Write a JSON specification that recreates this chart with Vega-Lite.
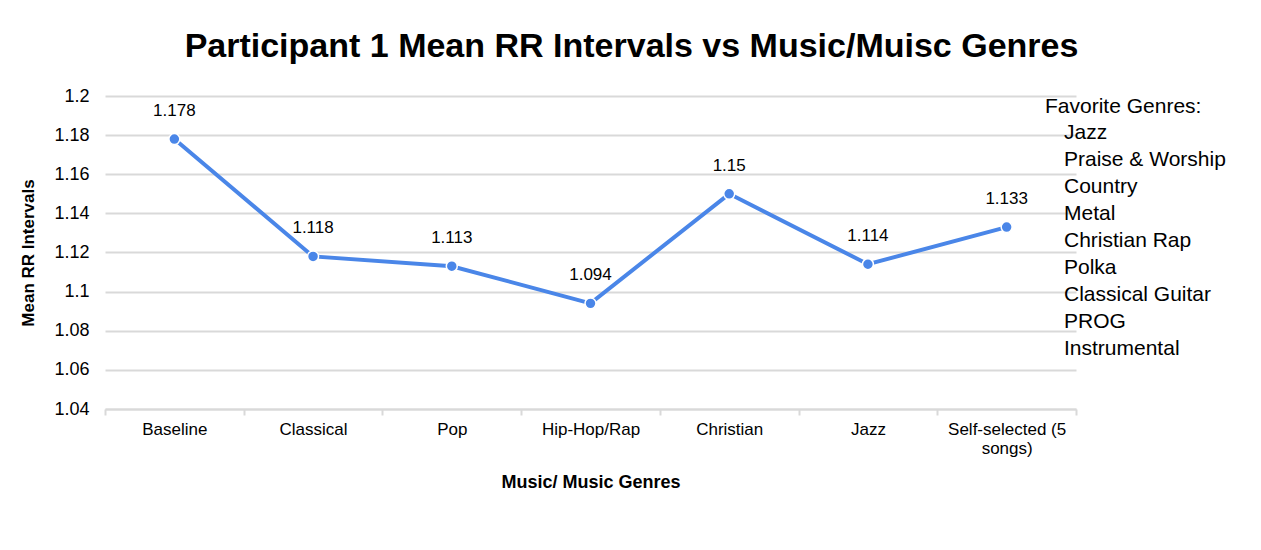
{
  "$schema": "https://vega.github.io/schema/vega-lite/v6.json",
  "width": 971,
  "height": 313,
  "autosize": {"type": "none"},
  "padding": {"left": 105, "top": 96, "right": 185, "bottom": 141},
  "background": "white",
  "config": {
    "font": "Liberation Sans",
    "view": {"stroke": null}
  },
  "title": {
    "text": "Participant 1 Mean RR Intervals vs Music/Muisc Genres",
    "fontSize": 34,
    "fontWeight": "bold",
    "font": "Liberation Sans",
    "color": "#000000",
    "anchor": "middle",
    "frame": "group",
    "dx": 41,
    "offset": 23
  },
  "datasets": {
    "rr": [
      {"genre": "Baseline", "rr": 1.178},
      {"genre": "Classical", "rr": 1.118},
      {"genre": "Pop", "rr": 1.113},
      {"genre": "Hip-Hop/Rap", "rr": 1.094},
      {"genre": "Christian", "rr": 1.15},
      {"genre": "Jazz", "rr": 1.114},
      {"genre": "Self-selected (5 songs)", "rr": 1.133}
    ],
    "fav": [
      {"fav": "Jazz"},
      {"fav": "Praise & Worship"},
      {"fav": "Country"},
      {"fav": "Metal"},
      {"fav": "Christian Rap"},
      {"fav": "Polka"},
      {"fav": "Classical Guitar"},
      {"fav": "PROG"},
      {"fav": "Instrumental"}
    ]
  },
  "layer": [
    {
      "data": {"name": "rr"},
      "encoding": {
        "x": {
          "field": "genre",
          "type": "nominal",
          "sort": null,
          "scale": {"paddingInner": 0, "paddingOuter": 0},
          "axis": {
            "title": "Music/ Music Genres",
            "titleFontSize": 18,
            "titleFontWeight": "bold",
            "titleColor": "#000000",
            "titlePadding": 17,
            "labelAngle": 0,
            "labelFontSize": 17,
            "labelColor": "#000000",
            "labelPadding": 6,
            "labelLimit": 300,
            "labelExpr": "datum.label == 'Self-selected (5 songs)' ? ['Self-selected (5', 'songs)'] : datum.label",
            "tickBand": "extent",
            "tickSize": 6,
            "tickColor": "#d9d9d9",
            "tickWidth": 2,
            "domainColor": "#d9d9d9",
            "domainWidth": 2,
            "grid": false
          }
        },
        "y": {
          "field": "rr",
          "type": "quantitative",
          "scale": {"domain": [1.04, 1.2], "zero": false},
          "axis": {
            "title": "Mean RR Intervals",
            "titleFontSize": 17,
            "titleFontWeight": "bold",
            "titleColor": "#000000",
            "titlePadding": 16,
            "values": [1.04, 1.06, 1.08, 1.1, 1.12, 1.14, 1.16, 1.18, 1.2],
            "tickCount": 9,
            "format": "~g",
            "labelOverlap": false,
            "labelFontSize": 18,
            "labelColor": "#000000",
            "labelPadding": 16,
            "ticks": false,
            "domain": false,
            "gridColor": "#d9d9d9",
            "gridWidth": 2
          }
        }
      },
      "layer": [
        {
          "mark": {"type": "line", "color": "#4a86e8", "strokeWidth": 4}
        },
        {
          "mark": {"type": "point", "filled": true, "color": "#4a86e8", "size": 120, "opacity": 1, "stroke": "white", "strokeWidth": 1.5}
        },
        {
          "mark": {"type": "text", "fontSize": 17, "color": "#000000", "dy": -28},
          "encoding": {
            "text": {"field": "rr", "type": "quantitative", "format": "~g"}
          }
        }
      ]
    },
    {
      "data": {"name": "fav"},
      "mark": {"type": "point", "opacity": 0},
      "encoding": {
        "color": {
          "field": "fav",
          "type": "nominal",
          "scale": {
            "domain": ["Jazz", "Praise & Worship", "Country", "Metal", "Christian Rap", "Polka", "Classical Guitar", "PROG", "Instrumental"],
            "range": ["#000000"]
          },
          "legend": {
            "title": "Favorite Genres:",
            "orient": "none",
            "legendX": 940,
            "legendY": 0,
            "padding": 0,
            "titleFontSize": 21,
            "titleFontWeight": "normal",
            "titleColor": "#000000",
            "titlePadding": 5,
            "labelFontSize": 21,
            "labelColor": "#000000",
            "labelLimit": 300,
            "labelOffset": -2,
            "symbolSize": 0,
            "symbolOpacity": 0,
            "symbolStrokeWidth": 0,
            "rowPadding": 5
          }
        }
      }
    }
  ]
}
